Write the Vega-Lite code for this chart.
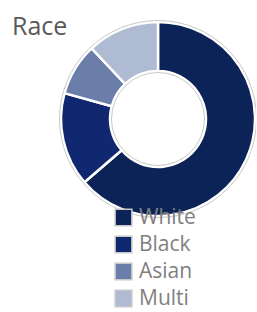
{
  "$schema": "https://vega.github.io/schema/vega-lite/v6.json",
  "autosize": "none",
  "width": 196,
  "height": 192,
  "padding": {"left": 60, "top": 23, "right": 0, "bottom": 97},
  "background": "white",
  "title": {
    "text": "Race",
    "anchor": "start",
    "frame": "group",
    "dx": -48,
    "dy": 27,
    "font": "Open Sans",
    "fontSize": 25,
    "fontWeight": "normal",
    "color": "#595959"
  },
  "data": {
    "values": [
      {"race": "White", "value": 63.7, "order": 1},
      {"race": "Black", "value": 15.6, "order": 2},
      {"race": "Asian", "value": 8.7, "order": 3},
      {"race": "Multi", "value": 12.0, "order": 4}
    ]
  },
  "layer": [
    {
      "mark": {"type": "arc", "radius": 97, "radius2": 48, "stroke": "white", "strokeWidth": 2.5},
      "encoding": {
        "theta": {"field": "value", "type": "quantitative", "stack": true},
        "order": {"field": "order", "type": "quantitative"},
        "color": {
          "field": "race",
          "type": "nominal",
          "sort": ["White", "Black", "Asian", "Multi"],
          "scale": {
            "domain": ["White", "Black", "Asian", "Multi"],
            "range": ["#0b2356", "#0f2870", "#6a7ea9", "#afbbd3"]
          },
          "legend": {
            "title": null,
            "orient": "none",
            "legendX": 53,
            "legendY": 184,
            "symbolType": "square",
            "symbolSize": 280,
            "symbolStrokeColor": "#c8c8c8",
            "symbolStrokeWidth": 1.5,
            "labelFont": "Open Sans",
            "labelFontSize": 21,
            "labelColor": "#808080",
            "rowPadding": 4,
            "labelOffset": 5,
            "labelLimit": 200
          }
        }
      }
    },
    {
      "mark": {"type": "arc", "radius": 98.5, "radius2": 46.5, "fill": null, "fillOpacity": 0, "stroke": "#c8c8c8", "strokeWidth": 1},
      "encoding": {
        "theta": {"aggregate": "sum", "field": "value", "type": "quantitative"}
      }
    }
  ]
}
